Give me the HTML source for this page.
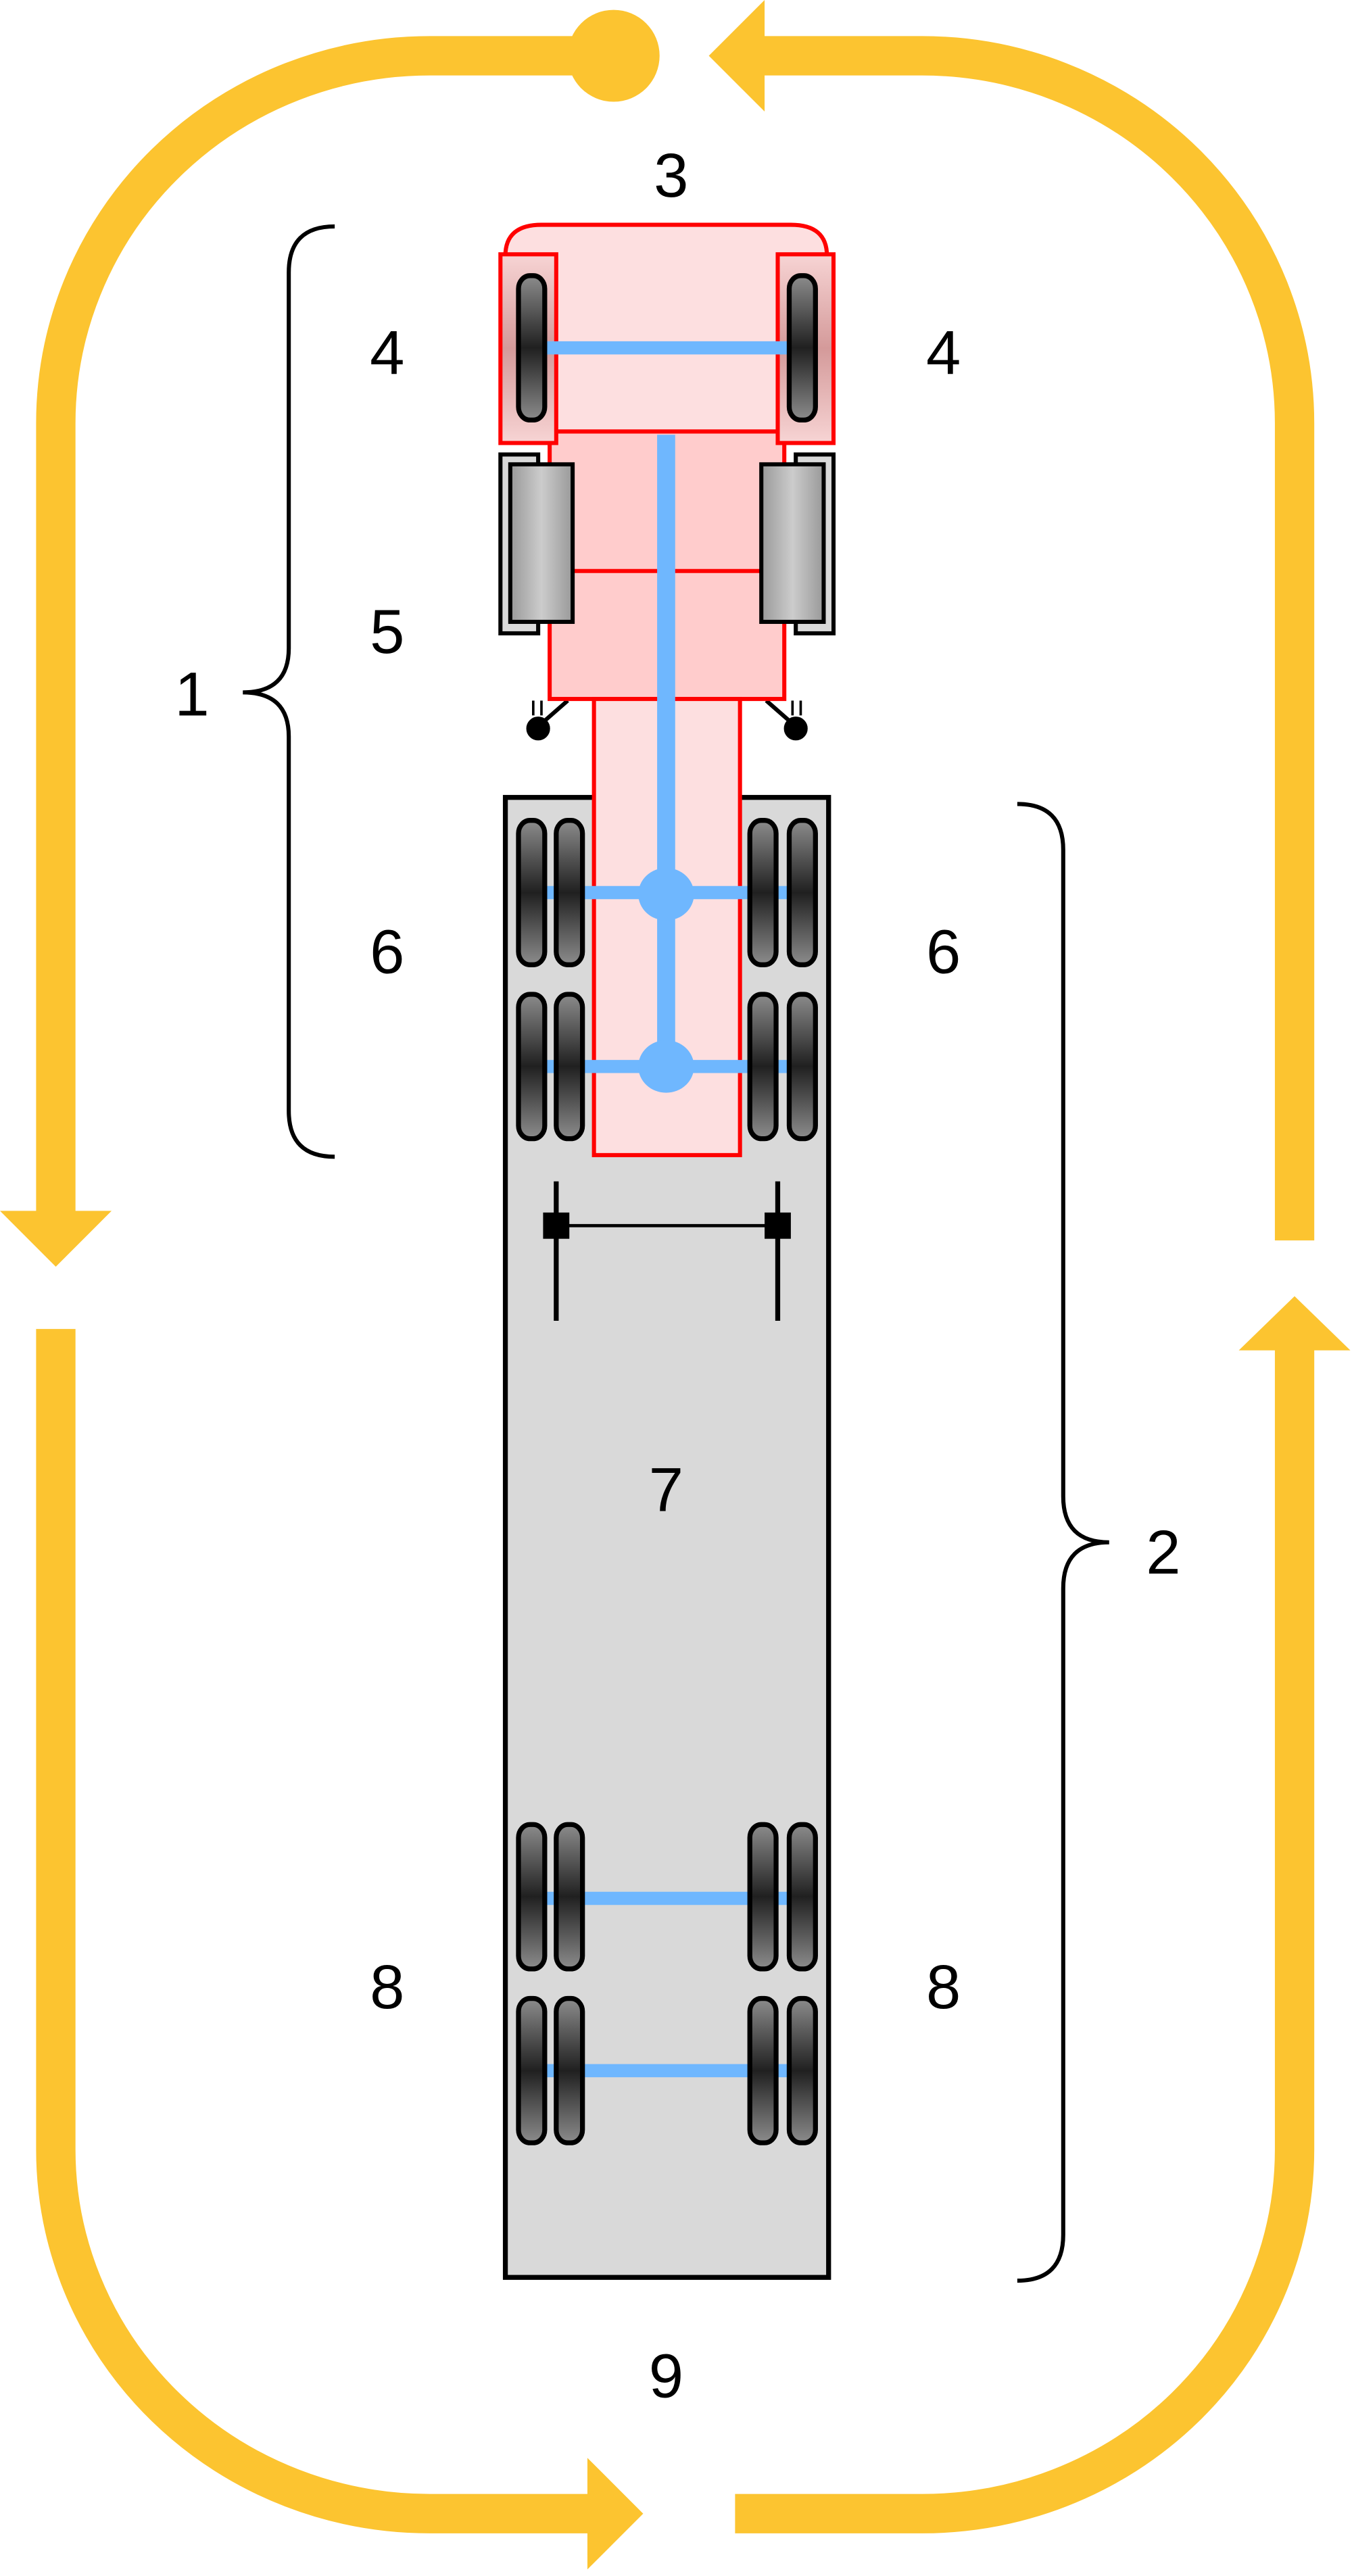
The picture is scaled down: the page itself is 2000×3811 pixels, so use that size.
<!DOCTYPE html>
<html><head><meta charset="utf-8"><style>html,body{margin:0;padding:0;background:#fff}svg{display:block}</style></head>
<body>
<svg width="2000" height="3811" viewBox="0 0 824 1570" preserveAspectRatio="none" xmlns="http://www.w3.org/2000/svg">
<defs>
<linearGradient id="tire" x1="0" y1="0" x2="0" y2="1">
<stop offset="0" stop-color="#8c8c8c"/><stop offset="0.5" stop-color="#202020"/><stop offset="1" stop-color="#8c8c8c"/></linearGradient>
<linearGradient id="tank" x1="0" y1="0" x2="1" y2="0">
<stop offset="0" stop-color="#999"/><stop offset="0.5" stop-color="#ccc"/><stop offset="1" stop-color="#999"/></linearGradient>
<linearGradient id="fw" x1="0" y1="0" x2="0" y2="1">
<stop offset="0" stop-color="#f7d4d4"/><stop offset="0.5" stop-color="#d49a9a"/><stop offset="1" stop-color="#f7d4d4"/></linearGradient>
<g id="t"><rect x="0" y="0" width="16" height="88" rx="7" ry="8" fill="url(#tire)" stroke="#000" stroke-width="3"/></g>
</defs>
<g fill="none" stroke="#fcc430" stroke-width="24">
<path d="M350 34 H262 A228 224 0 0 0 34 258 V740"/>
<path d="M34 810 V1310 A228 222 0 0 0 262 1532 H360"/>
<path d="M448 1532 H562 A227 222 0 0 0 789 1310 V822"/>
<path d="M789 756 V258 A227 224 0 0 0 562 34 H464"/>
</g>
<g fill="#fcc430">
<circle cx="374" cy="34" r="28"/>
<polygon points="0,738 68,738 34,772"/>
<polygon points="358,1498 358,1566 392,1532"/>
<polygon points="755,823 823,823 789,790"/>
<polygon points="466,0 466,68 432,34"/>
</g>
<!-- trailer -->
<rect x="308" y="486" width="197" height="902" fill="#d9d9d9" stroke="#000" stroke-width="3"/>
<!-- cab -->
<path d="M308 263 V156 Q308 137 330 137 H482 Q504 137 504 156 V263 Z" fill="#fddfe0" stroke="#f00" stroke-width="2.5"/>
<!-- hitches -->
<g stroke="#000" stroke-width="2.5" fill="#d9d9d9">
<path d="M346 427 L330 441"/><path d="M467 427 L483 441"/>
<circle cx="328" cy="444" r="6" fill="#000"/><circle cx="485" cy="444" r="6" fill="#000"/>
<path d="M325 427 V436 M330 427 V436 M483 427 V436 M488 427 V436" stroke-width="1.5"/>
</g>
<rect x="335" y="263" width="143" height="163" fill="#fcc" stroke="#f00" stroke-width="2.5"/>
<line x1="335" y1="348" x2="478" y2="348" stroke="#f00" stroke-width="2.5"/>
<rect x="362" y="426" width="89" height="278" fill="#fddfe0" stroke="#f00" stroke-width="2.5"/>
<!-- tanks -->
<rect x="305" y="277" width="23" height="109" fill="#d9d9d9" stroke="#000" stroke-width="2.5"/>
<rect x="311" y="283" width="38" height="96" fill="url(#tank)" stroke="#000" stroke-width="2.5"/>
<rect x="485" y="277" width="23" height="109" fill="#d9d9d9" stroke="#000" stroke-width="2.5"/>
<rect x="464" y="283" width="38" height="96" fill="url(#tank)" stroke="#000" stroke-width="2.5"/>
<!-- front wheel boxes -->
<rect x="305" y="155" width="34" height="115" fill="url(#fw)" stroke="#f00" stroke-width="2.5"/>
<rect x="474" y="155" width="34" height="115" fill="url(#fw)" stroke="#f00" stroke-width="2.5"/>
<line x1="333" y1="212" x2="480" y2="212" stroke="#6fb7fe" stroke-width="8"/>
<use href="#t" x="316" y="168"/><use href="#t" x="481" y="168"/>
<!-- drivetrain -->
<g stroke="#6fb7fe">
<line x1="406" y1="265" x2="406" y2="650" stroke-width="11"/>
<line x1="330" y1="544" x2="482" y2="544" stroke-width="8"/>
<line x1="330" y1="650" x2="482" y2="650" stroke-width="8"/>
<line x1="330" y1="1157" x2="482" y2="1157" stroke-width="8"/>
<line x1="330" y1="1262" x2="482" y2="1262" stroke-width="8"/>
</g>
<ellipse cx="406" cy="545" rx="17" ry="16" fill="#6fb7fe"/>
<ellipse cx="406" cy="650" rx="17" ry="16" fill="#6fb7fe"/>
<g>
<use href="#t" x="316" y="500"/><use href="#t" x="339" y="500"/><use href="#t" x="457" y="500"/><use href="#t" x="481" y="500"/>
<use href="#t" x="316" y="606"/><use href="#t" x="339" y="606"/><use href="#t" x="457" y="606"/><use href="#t" x="481" y="606"/>
<use href="#t" x="316" y="1112"/><use href="#t" x="339" y="1112"/><use href="#t" x="457" y="1112"/><use href="#t" x="481" y="1112"/>
<use href="#t" x="316" y="1218"/><use href="#t" x="339" y="1218"/><use href="#t" x="457" y="1218"/><use href="#t" x="481" y="1218"/>
</g>
<!-- landing gear -->
<g stroke="#000">
<line x1="339" y1="720" x2="339" y2="805" stroke-width="3"/>
<line x1="474" y1="720" x2="474" y2="805" stroke-width="3"/>
<line x1="339" y1="747" x2="474" y2="747" stroke-width="2"/>
</g>
<rect x="331" y="739" width="16" height="16" fill="#000"/>
<rect x="466" y="739" width="16" height="16" fill="#000"/>
<!-- braces -->
<g fill="none" stroke="#000" stroke-width="2.5">
<path d="M204 138 Q176 138 176 166 V395 Q176 422 148 422 Q176 422 176 449 V677 Q176 705 204 705"/>
<path d="M620 490 Q648 490 648 518 V912 Q648 940 676 940 Q648 940 648 968 V1362 Q648 1390 620 1390"/>
</g>
<g font-family="Liberation Sans, sans-serif" font-size="38" fill="#000" text-anchor="middle" dominant-baseline="central">
<text x="409" y="107">3</text>
<text x="236" y="215">4</text><text x="575" y="215">4</text>
<text x="236" y="385">5</text>
<text x="117" y="423">1</text>
<text x="236" y="580">6</text><text x="575" y="580">6</text>
<text x="709" y="946">2</text>
<text x="406" y="908">7</text>
<text x="236" y="1211">8</text><text x="575" y="1211">8</text>
<text x="406" y="1448">9</text>
</g>
</svg>
</body></html>
